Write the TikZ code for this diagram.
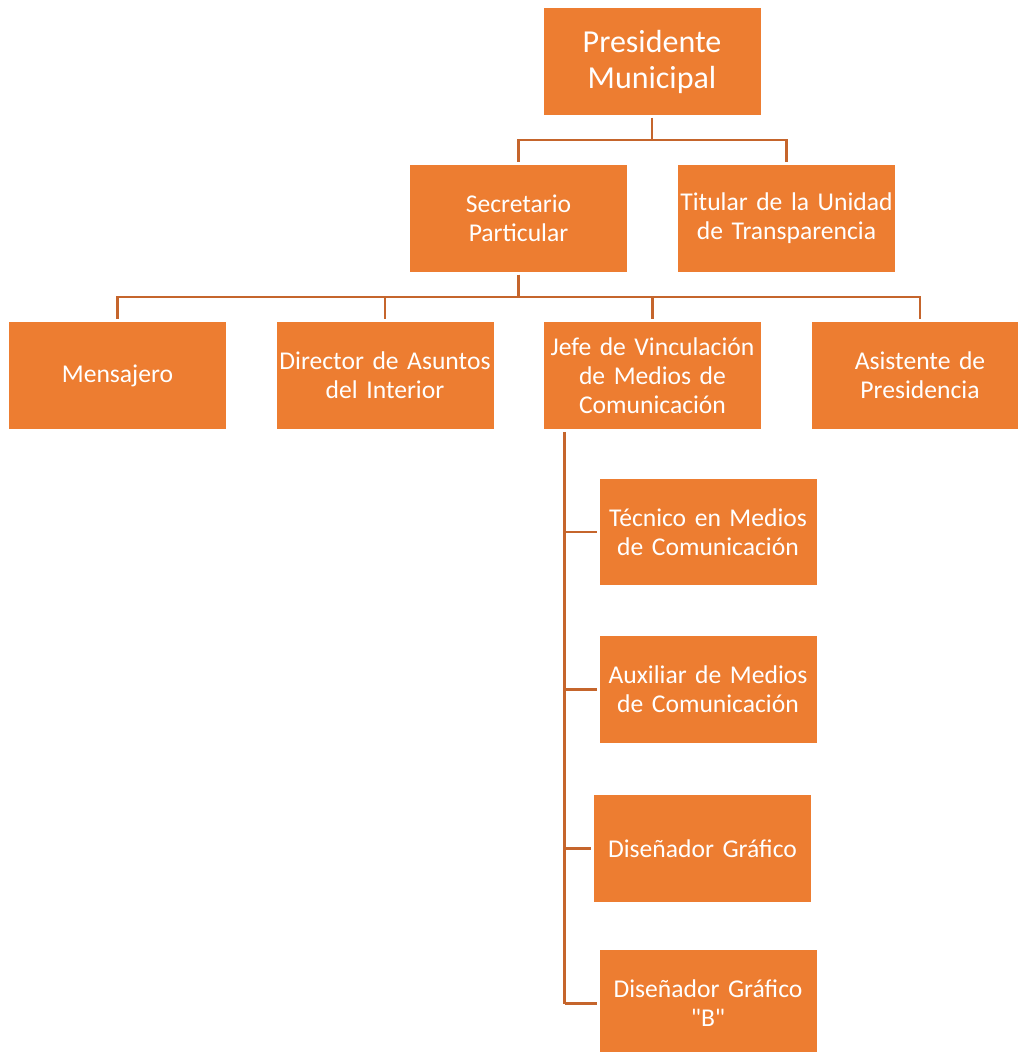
\documentclass[tikz,border=0pt]{standalone}
\usepackage{fontspec}
\setmainfont{Carlito}[Ligatures=TeXOff]
\usetikzlibrary{calc}
\definecolor{naranja}{HTML}{ED7D31}
\definecolor{linea}{HTML}{C5652C}

\begin{document}
\begin{tikzpicture}[x=0.75pt, y=-0.75pt,
  puesto/.style={fill=naranja, minimum width=162.75pt, minimum height=80pt, inner sep=0pt,
    text width=162.75pt, align=center, text=white, font=\fontsize{19.2}{21.8}\selectfont},
  enlace/.style={draw=linea, line width=1.9pt, shorten <=2pt, shorten >=2pt}]
  \useasboundingbox (0,0) rectangle (1017,1052);

  % direccion
  \node[puesto, font=\fontsize{24}{27}\selectfont] (pres) at (652,61.5) {Presidente\\Municipal};
  \node[puesto] (sec) at (518.5,218.5) {Secretario\\Particular};
  \node[puesto] (tit) at (786.5,218.5) {Titular de la Unidad\\de Transparencia};

  % dependientes del secretario
  \node[puesto] (men)  at (117.5,375.5) {Mensajero};
  \node[puesto] (dir)  at (385,375.5)   {Director de Asuntos\\del Interior};
  \node[puesto] (jefe) at (652.5,375.5) {Jefe de Vinculación\\de Medios de\\Comunicación};
  \node[puesto] (asi)  at (920,375.5)   {Asistente de\\Presidencia};

  % area de comunicacion
  \node[puesto] (tec)  at (708,532)    {Técnico en Medios\\de Comunicación};
  \node[puesto] (aux)  at (708,689.5)  {Auxiliar de Medios\\de Comunicación};
  \node[puesto] (dis)  at (702.5,848.5) {Diseñador Gráfico};
  \node[puesto] (disb) at (708,1003.5) {Diseñador Gráfico\\"B"};

  \draw[enlace] (pres.south) -- ++(0,25) -| (sec.north);
  \draw[enlace] (pres.south) -- ++(0,25) -| (tit.north);
  \foreach \n in {men,dir,jefe,asi}
    \draw[enlace] (sec.south) -- ++(0,25) -| (\n.north);

  \coordinate (eje) at ($(jefe.south west)+(21,0)$);
  \draw[enlace, shorten >=0pt] (eje) -- (eje |- disb.west);
  \foreach \n in {tec,aux,dis,disb}
    \draw[enlace, shorten <=0pt] (eje |- \n.west) -- (\n.west);
\end{tikzpicture}
\end{document}
